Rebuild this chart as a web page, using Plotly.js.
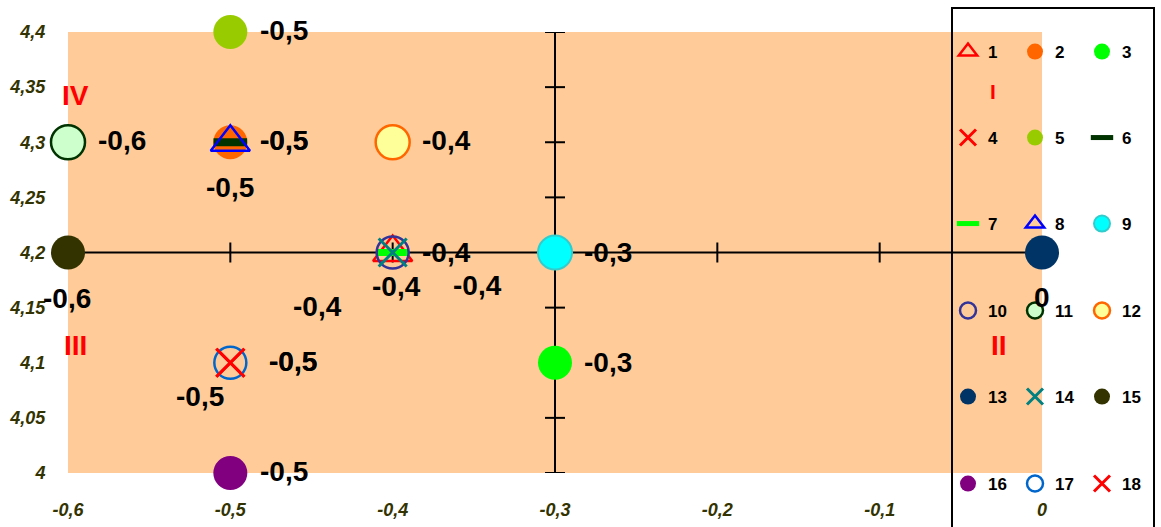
<!DOCTYPE html>
<html><head><meta charset="utf-8">
<script src="https://cdn.plot.ly/plotly-3.0.1.min.js"></script>
<style>html,body{margin:0;padding:0;background:#fff;} #chart{width:1161px;height:527px;}</style>
</head><body><div id="chart"></div>
<script>
// ---------- data ----------
const seriesNames = ['1','2','3','4','5','6','7','8','9','10','11','12','13','14','15','16','17','18'];
const xValues = [-0.4,-0.5,-0.3,-0.5,-0.5,-0.5,-0.4,-0.5,-0.3,-0.4,-0.6,-0.4,0,-0.4,-0.6,-0.5,-0.5,-0.5];
const yValues = [4.2,4.3,4.1,4.1,4.4,4.3,4.2,4.3,4.2,4.2,4.3,4.3,4.2,4.2,4.2,4.0,4.1,4.1];
const xTickValues = [-0.6,-0.5,-0.4,-0.3,-0.2,-0.1,0];
const xTickLabels = ['-0,6','-0,5','-0,4','-0,3','-0,2','-0,1','0'];
const yTickValues = [4,4.05,4.1,4.15,4.2,4.25,4.3,4.35,4.4];
const yTickLabels = ['4','4,05','4,1','4,15','4,2','4,25','4,3','4,35','4,4'];
const quadrantLabels = ['IV','I','III','II'];

// ---------- styles / positions ----------
const X_CROSS = -0.3, Y_CROSS = 4.2;
const FONT = 'Liberation Sans, Arial, sans-serif';
const markerStyles = [
  {symbol:'triangle-up-open', color:'#FF0000', size:34, lw:2.5},
  {symbol:'circle', color:'#FF6600', size:34, lw:0},
  {symbol:'circle', color:'#00FF00', size:34, lw:0},
  {symbol:'x-thin-open', color:'#FF0000', size:28, lw:3},
  {symbol:'circle', color:'#99CC00', size:34, lw:0},
  {symbol:'line-ew-open', color:'#003300', size:24, lw:8},
  {symbol:'line-ew-open', color:'#00FF00', size:23, lw:7},
  {symbol:'triangle-up-open', color:'#0000FF', size:34, lw:2.5},
  {symbol:'circle', color:'#00FFFF', size:34, lw:2, line:'#33CCCC'},
  {symbol:'circle-open', color:'#333399', size:32, lw:2.5},
  {symbol:'circle', color:'#CCFFCC', size:34, lw:2.5, line:'#003300'},
  {symbol:'circle', color:'#FFFF99', size:34, lw:2.5, line:'#FF6600'},
  {symbol:'circle', color:'#003366', size:34, lw:0},
  {symbol:'x-thin-open', color:'#008080', size:28, lw:3},
  {symbol:'circle', color:'#333300', size:34, lw:0},
  {symbol:'circle', color:'#800080', size:34, lw:0},
  {symbol:'circle-open', color:'#0066CC', size:32, lw:2.5},
  {symbol:'x-thin-open', color:'#FF0000', size:28, lw:3}
];
// label placement: [anchor, dx px, dy px (down +)]
const labelPlacement = [
  ['left',27,0],['left',28,-2],['left',27,0],['left',37,-1],['left',28,-2],['left',28,-2],
  ['center',4,34],['center',0,45],['left',27,0],['center',85,33],['left',28,-2],['left',27,-2],
  ['center',0,45],['center',-75,54],['center',-1,46],['left',28,-2],['center',-30,34],['left',37,-1]
];
const quadrantPos = [[0.0082,0.855,28],[0.9497,0.864,21],[0.0072,0.288,28],[0.956,0.288,28]];
const legendRowsY = [52,138,224,311,397,484];
const legendLeft = 948;
const PL = 68, PT = 32, PW = 974, PH = 441;

const fmt = v => String(v).replace('.', ',');

const traces = seriesNames.map((name, i) => {
  const s = markerStyles[i];
  const row = Math.floor(i / 3);
  return {
    type: 'scatter', mode: 'markers', name: name,
    x: [xValues[i]], y: [yValues[i]],
    cliponaxis: false, hoverinfo: 'skip',
    legend: row === 0 ? 'legend' : 'legend' + (row + 1),
    marker: {symbol: s.symbol, color: s.color, size: s.size,
             line: {color: s.line || s.color, width: s.lw}}
  };
});

const annotations = seriesNames.map((name, i) => {
  const p = labelPlacement[i];
  return {x: xValues[i], y: yValues[i], xref: 'x', yref: 'y', text: fmt(xValues[i]),
    showarrow: false, xanchor: p[0], yanchor: 'middle', xshift: p[1], yshift: -p[2],
    font: {family: FONT, size: 28, weight: 'bold', color: '#000'}};
});
quadrantLabels.forEach((t, i) => {
  const q = quadrantPos[i];
  annotations.push({x: q[0], y: q[1], xref: 'paper', yref: 'paper', text: t, showarrow: false,
    xanchor: 'center', yanchor: 'middle', font: {family: FONT, size: q[2], weight: 'bold', color: '#FF0000'}});
});

const shapes = [];
const lineStyle = {color: '#000', width: 2};
shapes.push({type: 'line', xref: 'x', yref: 'y', x0: xTickValues[0], x1: xTickValues[xTickValues.length-1], y0: Y_CROSS, y1: Y_CROSS, line: lineStyle, layer: 'below'});
shapes.push({type: 'line', xref: 'x', yref: 'y', x0: X_CROSS, x1: X_CROSS, y0: yTickValues[0], y1: yTickValues[yTickValues.length-1], line: lineStyle, layer: 'below'});
xTickValues.forEach(v => shapes.push({type: 'line', xref: 'x', yref: 'y', ysizemode: 'pixel', yanchor: Y_CROSS,
  x0: v, x1: v, y0: -10, y1: 10, line: lineStyle, layer: 'below'}));
yTickValues.forEach(v => shapes.push({type: 'line', xref: 'x', yref: 'y', xsizemode: 'pixel', xanchor: X_CROSS,
  y0: v, y1: v, x0: -10, x1: 10, line: lineStyle, layer: 'below'}));
// legend frame
shapes.push({type: 'rect', xref: 'paper', yref: 'paper', x0: (952-PL)/PW, x1: (1154-PL)/PW, y0: -0.2, y1: (PT+PH-8)/PH,
  line: {color: '#000', width: 2}, fillcolor: 'rgba(0,0,0,0)', layer: 'above'});

const tickFont = {family: FONT, size: 18, weight: 'bold', style: 'italic', color: '#333300'};
const layout = {
  width: 1161, height: 527,
  margin: {l: PL, r: 1161 - PL - PW, t: PT, b: 527 - PT - PH, pad: 0, autoexpand: false},
  paper_bgcolor: '#FFFFFF', plot_bgcolor: '#FFCC99',
  xaxis: {range: [-0.600001, 0.000001], tickmode: 'array', tickvals: xTickValues, ticktext: xTickLabels,
    showgrid: false, zeroline: false, showline: false, ticks: 'outside', ticklen: 20, tickcolor: 'rgba(0,0,0,0)',
    tickfont: tickFont, fixedrange: true, automargin: false},
  yaxis: {range: [3.999999, 4.400001], tickmode: 'array', tickvals: yTickValues, ticktext: yTickLabels,
    showgrid: false, zeroline: false, showline: false, ticks: 'outside', ticklen: 18, tickcolor: 'rgba(0,0,0,0)',
    tickfont: tickFont, fixedrange: true, automargin: false},
  showlegend: true,
  hovermode: false,
  annotations: annotations,
  shapes: shapes
};
legendRowsY.forEach((py, r) => {
  layout[r === 0 ? 'legend' : 'legend' + (r + 1)] = {
    orientation: 'h', xref: 'paper', yref: 'paper',
    x: (legendLeft - PL) / PW, xanchor: 'left', y: (PT + PH - py) / PH, yanchor: 'middle',
    bgcolor: 'rgba(0,0,0,0)', borderwidth: 0, entrywidth: 22, entrywidthmode: 'pixels',
    itemsizing: 'trace', font: {family: FONT, size: 17, weight: 'bold', color: '#000'}
  };
});

Plotly.newPlot('chart', traces, layout, {displayModeBar: false, staticPlot: true});
</script>
</body></html>
